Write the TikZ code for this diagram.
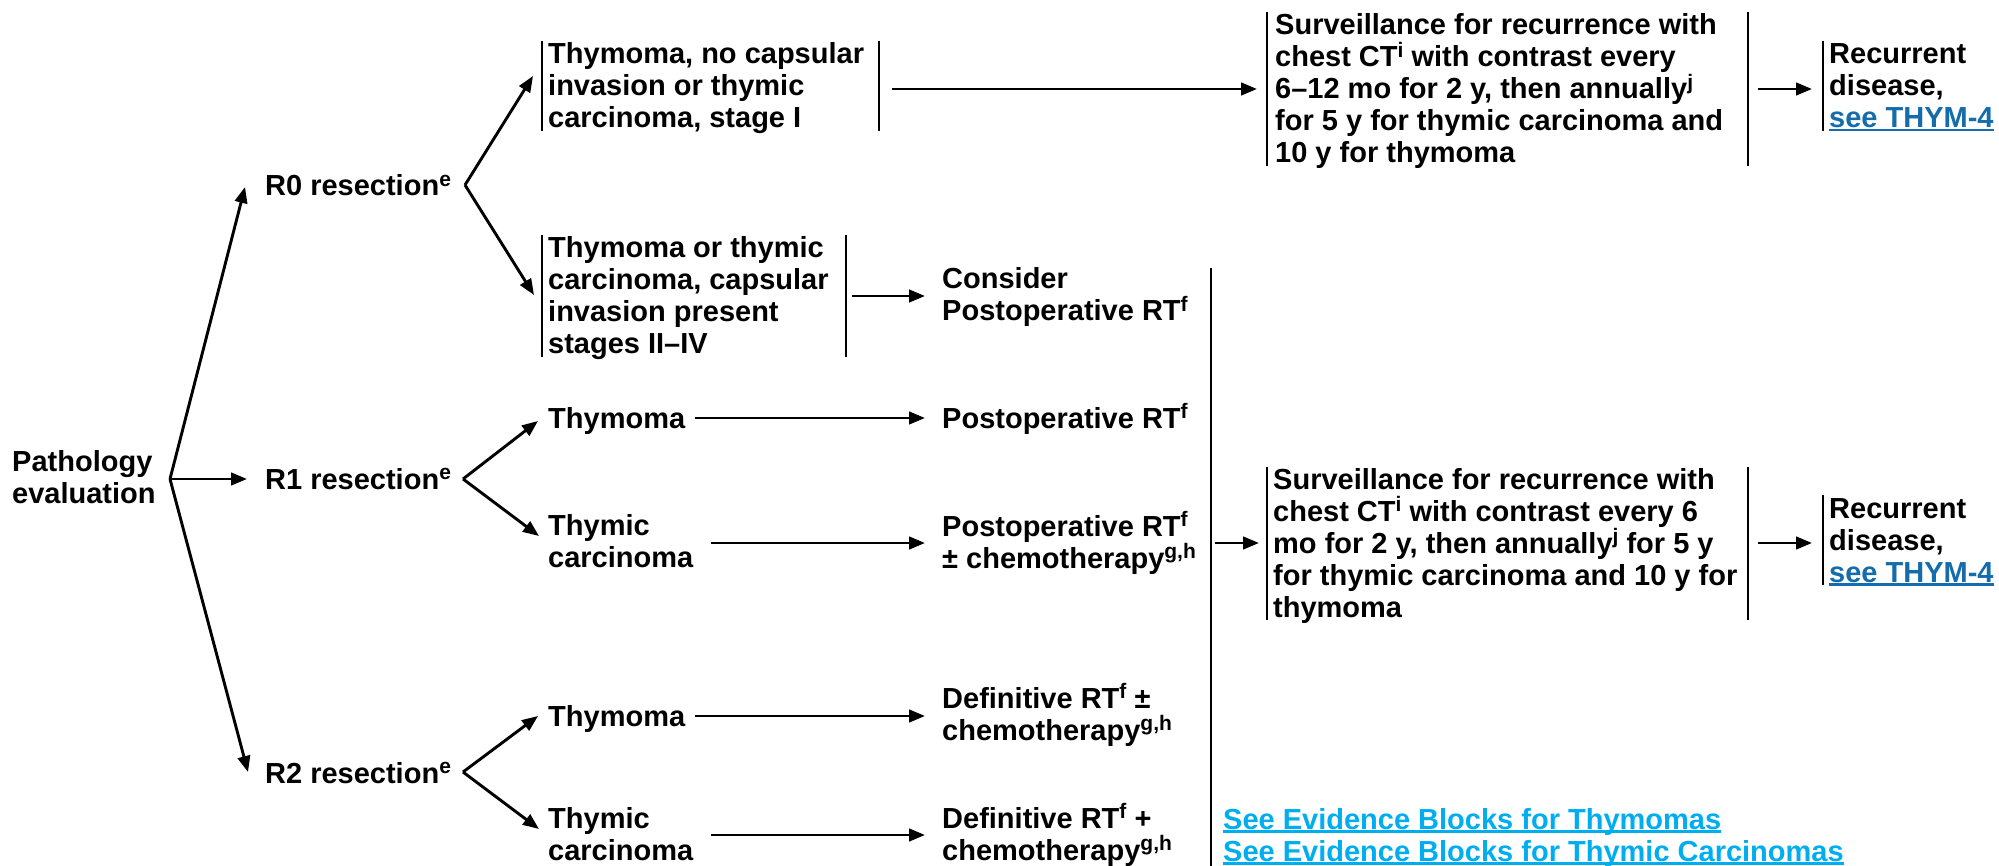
\documentclass[tikz,border=0pt]{standalone}
\usepackage{fontspec}
\setmainfont{Liberation Sans}
\usetikzlibrary{arrows.meta}
\definecolor{linkblue}{RGB}{20,108,172}
\definecolor{evcyan}{RGB}{0,174,239}
\newcommand\fn[1]{\smash{\raisebox{9.5pt}{\fontsize{21}{21}\selectfont #1}}}
\newcommand\ml[1]{\begin{tabular}[t]{@{}l@{}}#1\end{tabular}}
\newsavebox\ulbox
\newcommand\ulx[1]{\sbox\ulbox{#1}\rlap{\rule[-3.5pt]{\wd\ulbox}{2.4pt}}\usebox\ulbox}
\tikzset{
  txt/.style={anchor=base west, inner sep=0pt, font=\fontsize{29}{32}\selectfont\bfseries},
  arr/.style={line width=2.9pt, -{Triangle[length=16pt,width=12.5pt]}},
  bar/.style={line width=2.9pt}
}
\begin{document}
\begin{tikzpicture}[x=1pt,y=-1pt]
\useasboundingbox (0,0) rectangle (1999,866);
% ---------- text nodes ----------
\node[txt] (path) at (12,471) {\ml{Pathology\\evaluation}};
\node[txt] (r0) at (265,196) {\ml{R0 resection\fn{e}}};
\node[txt] (r1) at (265,489) {\ml{R1 resection\fn{e}}};
\node[txt] (r2) at (265,783) {\ml{R2 resection\fn{e}}};
\node[txt] (a1) at (548,64) {\ml{Thymoma, no capsular\\invasion or thymic\\carcinoma, stage I}};
\node[txt] (a2) at (548,258) {\ml{Thymoma or thymic\\carcinoma, capsular\\invasion present\\stages II–IV}};
\node[txt] (b1) at (548,428) {\ml{Thymoma}};
\node[txt] (b2) at (548,535) {\ml{Thymic\\carcinoma}};
\node[txt] (c1) at (548,726) {\ml{Thymoma}};
\node[txt] (c2) at (548,828) {\ml{Thymic\\carcinoma}};
\node[txt] (ta2) at (942,289) {\ml{Consider\\Postoperative RT\fn{f}}};
\node[txt] (tb1) at (942,428) {\ml{Postoperative RT\fn{f}}};
\node[txt] (tb2) at (942,536) {\ml{Postoperative RT\fn{f}\\± chemotherapy\fn{g,h}}};
\node[txt] (tc1) at (942,708) {\ml{Definitive RT\fn{f} ±\\chemotherapy\fn{g,h}}};
\node[txt] (tc2) at (942,828) {\ml{Definitive RT\fn{f} +\\chemotherapy\fn{g,h}}};
\node[txt] (s1) at (1275,35) {\ml{Surveillance for recurrence with\\chest CT\fn{i} with contrast every\\6–12 mo for 2 y, then annually\fn{j}\\for 5 y for thymic carcinoma and\\10 y for thymoma}};
\node[txt] (s2) at (1273,489) {\ml{Surveillance for recurrence with\\chest CT\fn{i} with contrast every 6\\mo for 2 y, then annually\fn{j} for 5 y\\for thymic carcinoma and 10 y for\\thymoma}};
\node[txt] (rec1) at (1829,64) {\ml{Recurrent\\disease,\\\textcolor{linkblue}{\ulx{see THYM-4}}}};
\node[txt] (rec2) at (1829,518) {\ml{Recurrent\\disease,\\\textcolor{linkblue}{\ulx{see THYM-4}}}};
\node[txt, text=evcyan] (ev) at (1223,829) {\ml{\ulx{See Evidence Blocks for Thymomas}\\\ulx{See Evidence Blocks for Thymic Carcinomas}}};
% ---------- bracket bars ----------
\draw[bar] (542,41) -- (542,131);
\draw[bar] (879,41) -- (879,131);
\draw[bar] (542,235) -- (542,357);
\draw[bar] (846,235) -- (846,357);
\draw[bar] (1267,12) -- (1267,166);
\draw[bar] (1748,12) -- (1748,166);
\draw[bar] (1823,41) -- (1823,131);
\draw[bar] (1267,467) -- (1267,620);
\draw[bar] (1748,467) -- (1748,620);
\draw[bar] (1823,495) -- (1823,585);
\draw[bar] (1211,268) -- (1211,866);
% ---------- connector end points ----------
\coordinate (pv) at (170,479);
\coordinate (r0in) at (245,187);
\coordinate (r1in) at (247,479);
\coordinate (r2in) at (248,772);
\coordinate (r0v) at (465,185);
\coordinate (r1v) at (463,479);
\coordinate (r2v) at (463,772);
\coordinate (a1in) at (533,76);
\coordinate (a2in) at (534,295);
\coordinate (b1in) at (538,421);
\coordinate (b2in) at (539,536);
\coordinate (c1in) at (538,716);
\coordinate (c2in) at (539,829);
\coordinate (a1out) at (892,89);
\coordinate (s1in) at (1257,89);
\coordinate (a2out) at (852,296);
\coordinate (ta2in) at (925,296);
\coordinate (b1out) at (695,418);
\coordinate (tb1in) at (925,418);
\coordinate (b2out) at (711,543);
\coordinate (tb2in) at (925,543);
\coordinate (c1out) at (695,716);
\coordinate (tc1in) at (925,716);
\coordinate (c2out) at (711,835);
\coordinate (tc2in) at (925,835);
\coordinate (colout) at (1215,543);
\coordinate (s2in) at (1259,543);
\coordinate (s1out) at (1758,89);
\coordinate (rec1in) at (1812,89);
\coordinate (s2out) at (1758,543);
\coordinate (rec2in) at (1812,543);
% ---------- connectors ----------
\draw[arr] (pv) -- (r0in);
\draw[arr] (pv) -- (r1in);
\draw[arr] (pv) -- (r2in);
\draw[arr] (r0v) -- (a1in);
\draw[arr] (r0v) -- (a2in);
\draw[arr] (r1v) -- (b1in);
\draw[arr] (r1v) -- (b2in);
\draw[arr] (r2v) -- (c1in);
\draw[arr] (r2v) -- (c2in);
\draw[arr] (a1out) -- (s1in);
\draw[arr] (a2out) -- (ta2in);
\draw[arr] (b1out) -- (tb1in);
\draw[arr] (b2out) -- (tb2in);
\draw[arr] (c1out) -- (tc1in);
\draw[arr] (c2out) -- (tc2in);
\draw[arr] (colout) -- (s2in);
\draw[arr] (s1out) -- (rec1in);
\draw[arr] (s2out) -- (rec2in);
\end{tikzpicture}
\end{document}
